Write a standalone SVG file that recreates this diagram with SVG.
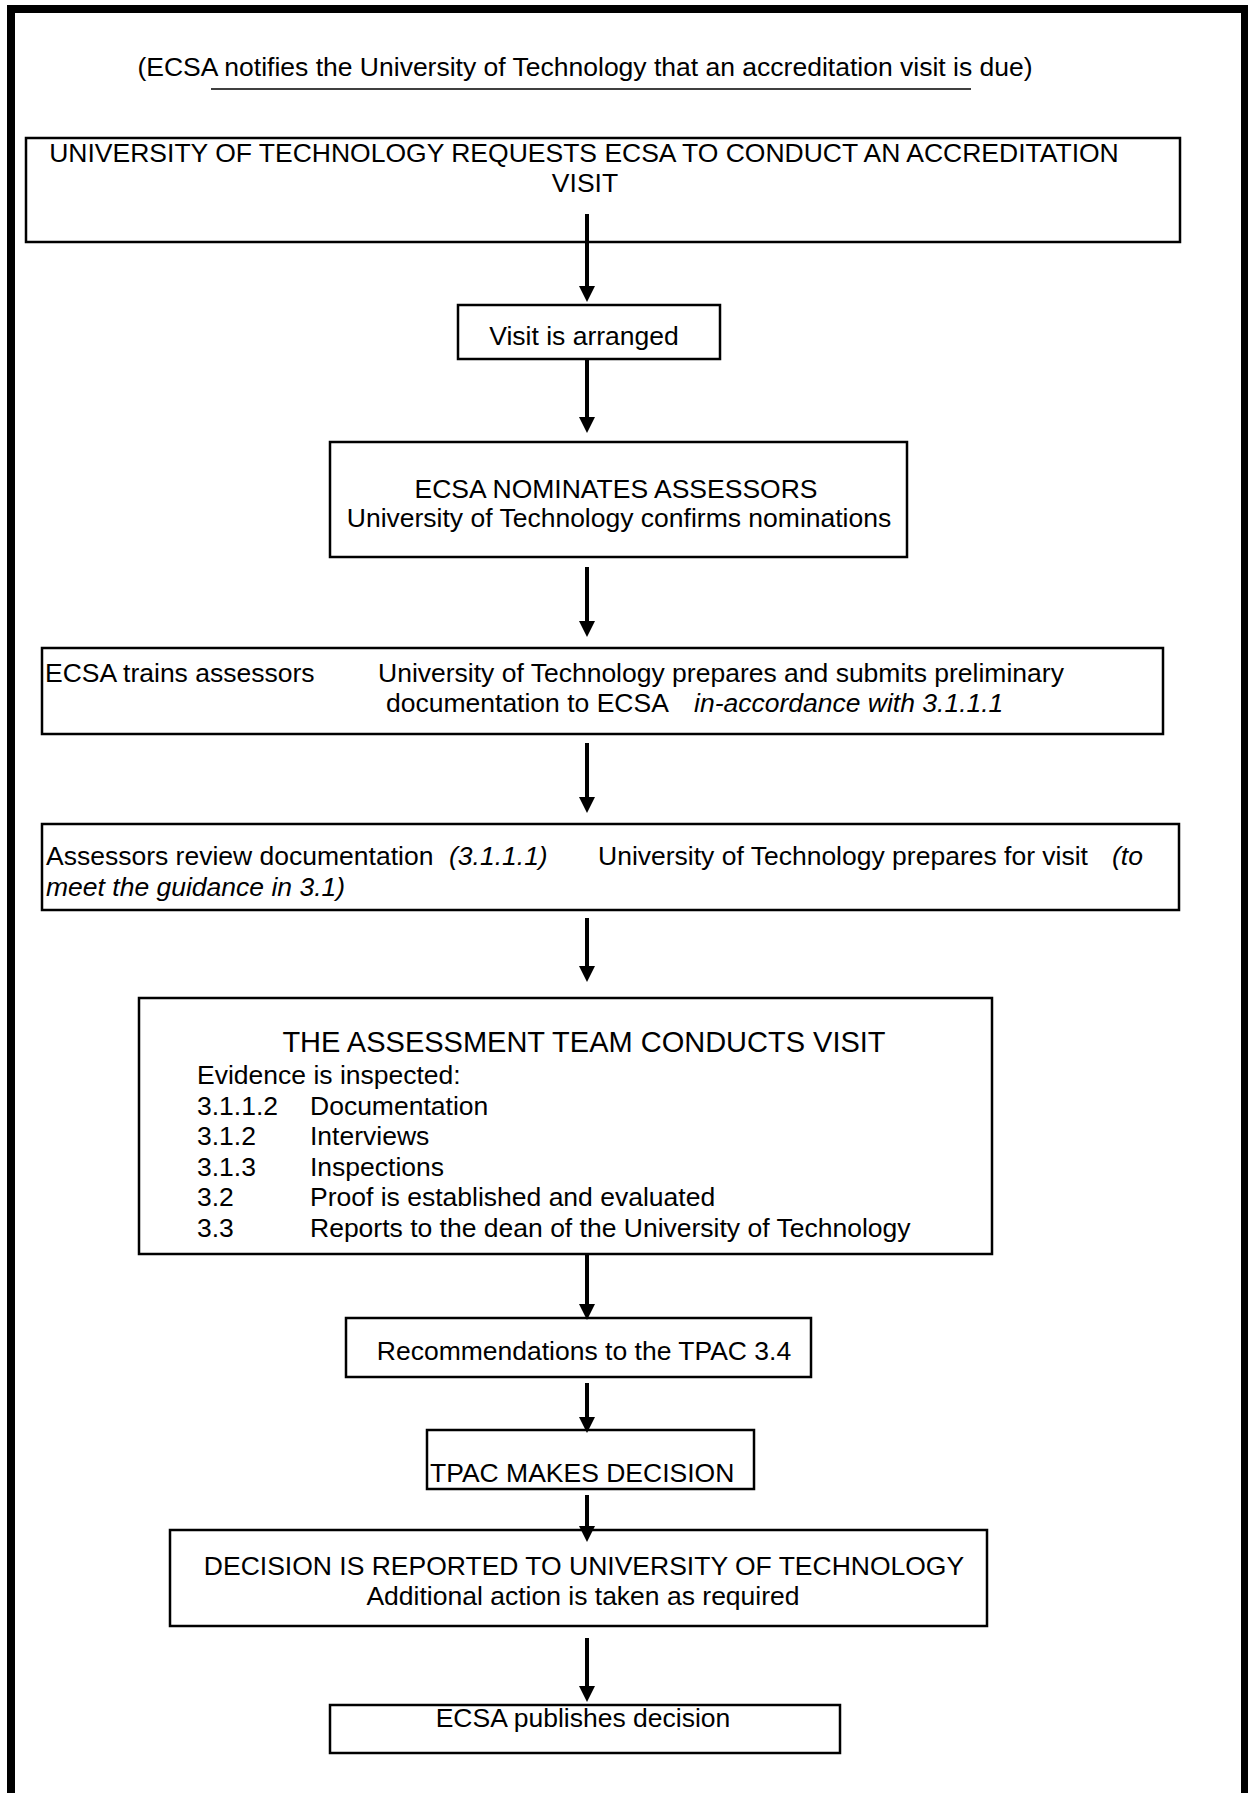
<svg xmlns="http://www.w3.org/2000/svg" width="1248" height="1793" viewBox="0 0 1248 1793">
<style>
text{font-family:"Liberation Sans",Arial,sans-serif;font-size:26.5px;fill:#000}
.c{text-anchor:middle}
.i{font-style:italic}
.box{fill:#fff;stroke:#000;stroke-width:2.5}
.conn{fill:none;stroke:#000;stroke-width:4}
</style>
<defs>
<marker id="ah" viewBox="0 0 16 16" refX="1" refY="8" markerWidth="16" markerHeight="16" markerUnits="userSpaceOnUse" orient="auto">
<path d="M0,0 L16,8 L0,16 z" fill="#000"/>
</marker>
</defs>
<rect width="1248" height="1793" fill="#fff"/>
<path d="M11,1793 V9 H1245 V1793" fill="none" stroke="#000" stroke-width="8"/>
<g id="intro">
<text class="c" x="585" y="76">(ECSA notifies the University of Technology that an accreditation visit is due)</text>
<line x1="211" y1="89" x2="971" y2="89" stroke="#000" stroke-width="1.5"/>
</g>
<g id="n1">
<rect class="box" x="26" y="138" width="1154" height="104"/>
<text class="c" x="584" y="162">UNIVERSITY OF TECHNOLOGY REQUESTS ECSA TO CONDUCT AN ACCREDITATION</text>
<text class="c" x="585" y="192">VISIT</text>
</g>
<g id="n2">
<rect class="box" x="458" y="305" width="262" height="54"/>
<text class="c" x="584" y="345">Visit is arranged</text>
</g>
<g id="n3">
<rect class="box" x="330" y="442" width="577" height="115"/>
<text class="c" x="616" y="498">ECSA NOMINATES ASSESSORS</text>
<text class="c" x="619" y="527">University of Technology confirms nominations</text>
</g>
<g id="n4">
<rect class="box" x="42" y="648" width="1121" height="86"/>
<text x="45" y="682">ECSA trains assessors</text>
<text x="378" y="682">University of Technology prepares and submits preliminary</text>
<text x="386" y="712">documentation to ECSA</text>
<text class="i" x="694" y="712">in-accordance with 3.1.1.1</text>
</g>
<g id="n5">
<rect class="box" x="42" y="824" width="1137" height="86"/>
<text x="46" y="865">Assessors review documentation</text>
<text class="i" x="449" y="865">(3.1.1.1)</text>
<text x="598" y="865">University of Technology prepares for visit</text>
<text class="i" x="1112" y="865">(to</text>
<text class="i" x="46" y="896">meet the guidance in 3.1)</text>
</g>
<g id="n6">
<rect class="box" x="139" y="998" width="853" height="256"/>
<text class="c" x="584" y="1052" style="font-size:29px">THE ASSESSMENT TEAM CONDUCTS VISIT</text>
<text x="197" y="1084">Evidence is inspected:</text>
<text x="197" y="1115">3.1.1.2</text><text x="310" y="1115">Documentation</text>
<text x="197" y="1145">3.1.2</text><text x="310" y="1145">Interviews</text>
<text x="197" y="1176">3.1.3</text><text x="310" y="1176">Inspections</text>
<text x="197" y="1206">3.2</text><text x="310" y="1206">Proof is established and evaluated</text>
<text x="197" y="1237">3.3</text><text x="310" y="1237">Reports to the dean of the University of Technology</text>
</g>
<g id="n7">
<rect class="box" x="346" y="1318" width="465" height="59"/>
<text class="c" x="584" y="1360">Recommendations to the TPAC 3.4</text>
</g>
<g id="n8">
<rect class="box" x="427" y="1430" width="327" height="59"/>
<text x="430" y="1482">TPAC MAKES DECISION</text>
</g>
<g id="n9">
<rect class="box" x="170" y="1530" width="817" height="96"/>
<text class="c" x="584" y="1575">DECISION IS REPORTED TO UNIVERSITY OF TECHNOLOGY</text>
<text class="c" x="583" y="1605">Additional action is taken as required</text>
</g>
<g id="n10">
<rect class="box" x="330" y="1705" width="510" height="48"/>
<text class="c" x="583" y="1727">ECSA publishes decision</text>
</g>
<g id="connectors">
<path class="conn" marker-end="url(#ah)" d="M587,214 V287"/>
<path class="conn" marker-end="url(#ah)" d="M587,359 V418"/>
<path class="conn" marker-end="url(#ah)" d="M587,567 V622"/>
<path class="conn" marker-end="url(#ah)" d="M587,743 V798"/>
<path class="conn" marker-end="url(#ah)" d="M587,918 V967"/>
<path class="conn" marker-end="url(#ah)" d="M587,1254 V1305"/>
<path class="conn" marker-end="url(#ah)" d="M587,1383 V1418"/>
<path class="conn" marker-end="url(#ah)" d="M587,1495 V1527"/>
<path class="conn" marker-end="url(#ah)" d="M587,1638 V1687"/>
</g>
</svg>
